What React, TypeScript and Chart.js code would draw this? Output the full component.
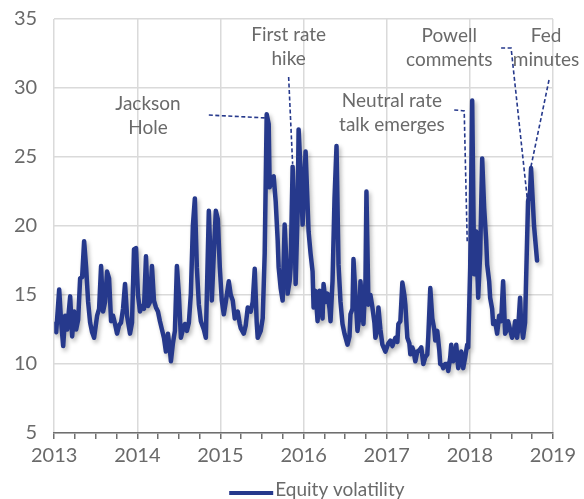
import React, { useEffect, useRef } from 'react';
import { Chart, registerables } from 'chart.js';

Chart.register(...registerables);

// Decimal-year dates of observations
const dates: number[] = [
  2013.000, 2013.024, 2013.060, 2013.084, 2013.108, 2013.132, 2013.156, 2013.192, 2013.216, 2013.240,
  2013.264, 2013.288, 2013.312, 2013.336, 2013.360, 2013.384, 2013.408, 2013.432, 2013.456, 2013.480,
  2013.516, 2013.540, 2013.564, 2013.588, 2013.612, 2013.636, 2013.660, 2013.684, 2013.708, 2013.732,
  2013.756, 2013.780, 2013.804, 2013.828, 2013.852, 2013.876, 2013.912, 2013.936, 2013.960, 2013.984,
  2014.008, 2014.032, 2014.056, 2014.080, 2014.104, 2014.128, 2014.152, 2014.176, 2014.200, 2014.224,
  2014.248, 2014.272, 2014.296, 2014.320, 2014.344, 2014.368, 2014.392, 2014.404, 2014.428, 2014.452,
  2014.476, 2014.500, 2014.524, 2014.548, 2014.572, 2014.596, 2014.620, 2014.644, 2014.668, 2014.692,
  2014.716, 2014.740, 2014.764, 2014.800, 2014.824, 2014.836, 2014.860, 2014.884, 2014.896, 2014.920,
  2014.944, 2014.968, 2014.992,
  2015.016, 2015.040, 2015.064, 2015.100, 2015.124, 2015.148, 2015.172, 2015.208, 2015.232, 2015.244,
  2015.280, 2015.304, 2015.328, 2015.364, 2015.388, 2015.412, 2015.436, 2015.448, 2015.484, 2015.508,
  2015.532, 2015.556, 2015.580, 2015.592, 2015.616, 2015.640, 2015.664, 2015.688, 2015.700, 2015.724,
  2015.748, 2015.772, 2015.796, 2015.808, 2015.832, 2015.844, 2015.868, 2015.892, 2015.904, 2015.928,
  2015.940, 2015.964, 2015.988,
  2016.024, 2016.060, 2016.084, 2016.108, 2016.120, 2016.144, 2016.168, 2016.192, 2016.204, 2016.228,
  2016.240, 2016.264, 2016.288, 2016.312, 2016.324, 2016.348, 2016.372, 2016.396, 2016.420, 2016.444,
  2016.468, 2016.492, 2016.528, 2016.552, 2016.564, 2016.588, 2016.600, 2016.624, 2016.648, 2016.672,
  2016.684, 2016.708, 2016.720, 2016.744, 2016.756, 2016.780, 2016.804, 2016.828, 2016.852, 2016.864,
  2016.888, 2016.900, 2016.924, 2016.948, 2016.984,
  2017.020, 2017.044, 2017.068, 2017.104, 2017.128, 2017.140, 2017.164, 2017.188, 2017.212, 2017.224,
  2017.248, 2017.272, 2017.284, 2017.308, 2017.320, 2017.344, 2017.368, 2017.392, 2017.416, 2017.440,
  2017.464, 2017.488, 2017.500, 2017.524, 2017.548, 2017.572, 2017.584, 2017.608, 2017.632, 2017.644,
  2017.668, 2017.680, 2017.704, 2017.728, 2017.740, 2017.764, 2017.776, 2017.800, 2017.824, 2017.836,
  2017.860, 2017.884, 2017.896, 2017.920, 2017.944, 2017.968, 2017.980,
  2018.004, 2018.028, 2018.052, 2018.076, 2018.100, 2018.124, 2018.148, 2018.172, 2018.196, 2018.208,
  2018.232, 2018.244, 2018.268, 2018.280, 2018.304, 2018.328, 2018.352, 2018.376, 2018.400, 2018.424,
  2018.448, 2018.460, 2018.484, 2018.508, 2018.532, 2018.544, 2018.568, 2018.580, 2018.604, 2018.616,
  2018.640, 2018.664, 2018.676, 2018.700, 2018.724, 2018.736, 2018.772, 2018.808,
];

// Equity volatility values
const volatility: number[] = [
  12.9, 12.3, 15.4, 13.0, 11.3, 13.5, 12.5, 14.9, 12.0, 13.8,
  12.5, 13.2, 16.2, 16.3, 18.9, 17.0, 14.5, 13.0, 12.3, 11.9,
  13.5, 14.0, 17.1, 13.8, 14.5, 16.7, 16.2, 13.1, 13.5, 12.9,
  12.2, 12.8, 13.0, 14.0, 15.8, 13.5, 12.2, 13.0, 18.3, 18.4,
  15.0, 13.8, 14.2, 14.0, 17.8, 14.2, 14.5, 17.1, 14.6, 14.1,
  13.8, 13.1, 12.5, 11.9, 10.9, 12.2, 11.0, 10.2, 11.5, 12.4,
  17.1, 15.0, 11.9, 12.5, 12.9, 12.4, 13.0, 15.1, 20.0, 22.0,
  17.0, 14.3, 13.1, 12.5, 11.9, 15.0, 21.1, 17.0, 14.6, 18.0,
  21.1, 20.5, 17.0,
  14.6, 13.6, 14.5, 16.0, 15.0, 14.6, 13.3, 13.8, 12.9, 12.6,
  12.2, 12.8, 14.1, 13.8, 14.5, 16.9, 13.0, 11.9, 12.4, 13.3,
  18.0, 28.1, 27.4, 22.8, 23.5, 23.6, 21.8, 19.0, 17.0, 15.5,
  14.6, 20.1, 17.0, 15.1, 16.0, 17.0, 24.3, 20.0, 15.8, 21.0,
  27.0, 24.0, 20.1,
  25.4, 19.6, 18.0, 16.7, 14.1, 15.3, 13.1, 15.3, 14.5, 13.3,
  15.8, 14.5, 15.1, 14.0, 13.1, 16.0, 22.0, 25.8, 17.2, 14.5,
  12.9, 12.2, 11.4, 12.0, 13.6, 14.0, 17.6, 15.0, 12.4, 13.5,
  16.0, 14.0, 12.9, 16.0, 22.5, 14.3, 15.0, 14.1, 13.0, 11.9,
  12.5, 14.1, 12.5, 11.4, 10.9,
  11.5, 11.7, 11.3, 11.9, 11.6, 12.9, 13.1, 15.9, 15.0, 14.3,
  11.9, 11.5, 10.7, 11.2, 11.0, 10.2, 10.9, 11.0, 11.2, 10.0,
  10.5, 10.7, 12.0, 15.5, 13.3, 12.5, 11.7, 12.4, 11.0, 10.0,
  9.9, 9.7, 10.0, 10.0, 9.5, 10.5, 11.4, 10.2, 10.5, 11.4,
  9.7, 10.5, 10.9, 9.7, 10.5, 11.4, 11.2,
  17.0, 29.1, 16.5, 19.6, 14.8, 18.0, 24.9, 21.3, 19.0, 17.2,
  16.0, 14.8, 14.0, 12.9, 13.1, 12.2, 13.5, 13.1, 16.0, 12.2,
  12.5, 13.1, 12.5, 11.9, 12.5, 13.1, 11.9, 12.5, 14.8, 13.0,
  11.9, 13.0, 16.0, 21.8, 22.5, 24.2, 20.0, 17.5,
];

const seriesName = 'Equity volatility';
const yearMin = 2013;
const yearMax = 2019;
const yMin = 5;
const yMax = 35;

// Annotation labels (text lines, anchor in data units) and leader lines (data units)
const annotationTexts: string[][] = [
  ['Jackson', 'Hole'],
  ['First rate', 'hike'],
  ['Neutral rate', 'talk emerges'],
  ['Powell', 'comments'],
  ['Fed', 'minutes'],
];
const annotationAnchors: [number, number][] = [
  [2014.128, 27.97],
  [2015.82, 32.97],
  [2017.062, 28.22],
  [2017.752, 32.9],
  [2018.916, 32.9],
];
const annotationLeaders: [number, number][][] = [
  [[2014.86, 28.04], [2015.544, 27.83]],
  [[2015.82, 30.8], [2015.868, 24.5]],
  [[2017.812, 28.41], [2017.932, 28.34], [2017.968, 18.9]],
  [[2018.376, 32.9], [2018.496, 32.9], [2018.70, 21.45]],
  [[2018.952, 30.58], [2018.724, 23.99]],
];

const NAVY = '#26398c';
const TEXT = '#6a6a6a';
const GRID = '#dadada';
const AXIS = '#6f6f6f';
const FONT = 'Lato, "Open Sans", sans-serif';

// canvas is drawn taller than the page and shifted up, so the plot sits as in the original
const CANVAS_W = 584;
const CANVAS_H = 522;
const SHIFT = 10;

export default function App() {
  const ref = useRef<HTMLCanvasElement | null>(null);

  useEffect(() => {
    document.body.style.margin = '0';
    const canvas = ref.current;
    if (!canvas) return;

    const shadowPlugin = {
      id: 'lineShadow',
      beforeDatasetDraw(chart: any) {
        const ctx = chart.ctx;
        ctx.save();
        ctx.shadowColor = 'rgba(0,0,0,0.28)';
        ctx.shadowBlur = 4;
        ctx.shadowOffsetX = 2;
        ctx.shadowOffsetY = 3;
      },
      afterDatasetDraw(chart: any) {
        chart.ctx.restore();
      },
    };

    const annotationPlugin = {
      id: 'annotations',
      afterDraw(chart: any) {
        const ctx = chart.ctx;
        const xs = chart.scales.x;
        const ys = chart.scales.y;
        ctx.save();
        // leaders
        ctx.strokeStyle = NAVY;
        ctx.lineWidth = 1.6;
        ctx.setLineDash([4, 2.5]);
        annotationLeaders.forEach((pts) => {
          ctx.beginPath();
          pts.forEach(([x, y], i) => {
            const px = xs.getPixelForValue(x);
            const py = ys.getPixelForValue(y);
            if (i === 0) ctx.moveTo(px, py);
            else ctx.lineTo(px, py);
          });
          ctx.stroke();
        });
        ctx.setLineDash([]);
        // labels
        ctx.fillStyle = TEXT;
        ctx.font = `19px ${FONT}`;
        ctx.textAlign = 'center';
        ctx.textBaseline = 'middle';
        const lh = 24;
        annotationTexts.forEach((lines, i) => {
          const [ax, ay] = annotationAnchors[i];
          const cx = xs.getPixelForValue(ax);
          const cy = ys.getPixelForValue(ay);
          const top = cy - ((lines.length - 1) * lh) / 2;
          lines.forEach((t, j) => ctx.fillText(t, cx, top + j * lh));
        });
        // legend
        const area = chart.chartArea;
        const lx = area.left + 175;
        const ly = area.bottom + 60;
        ctx.strokeStyle = NAVY;
        ctx.lineWidth = 4;
        ctx.beginPath();
        ctx.moveTo(lx, ly);
        ctx.lineTo(lx + 44, ly);
        ctx.stroke();
        ctx.textAlign = 'left';
        ctx.textBaseline = 'alphabetic';
        ctx.fillText(seriesName, lx + 46, ly + 3);
        ctx.restore();
      },
    };

    const chart = new Chart(canvas, {
      type: 'line',
      data: {
        datasets: [
          {
            label: seriesName,
            data: dates.map((d, i) => ({ x: d, y: volatility[i] })),
            borderColor: NAVY,
            backgroundColor: NAVY,
            borderWidth: 4.5,
            pointRadius: 0,
            tension: 0,
            borderJoinStyle: 'round',
            borderCapStyle: 'round',
          },
        ],
      },
      options: {
        animation: false,
        responsive: false,
        devicePixelRatio: 1,
        layout: { padding: { left: -3, right: 31, top: -2, bottom: 39 } },
        plugins: {
          legend: { display: false },
          tooltip: { enabled: false },
        },
        scales: {
          x: {
            type: 'linear',
            min: yearMin,
            max: yearMax,
            ticks: {
              stepSize: 0.25,
              autoSkip: false,
              maxRotation: 0,
              padding: 5,
              color: TEXT,
              font: { family: FONT, size: 20 },
              callback: (v: any) => (Number.isInteger(v) ? String(v) : ''),
            },
            grid: {
              color: (c: any) => (c.tick && Number.isInteger(c.tick.value) ? GRID : 'rgba(0,0,0,0)'),
              tickColor: AXIS,
              tickLength: 6,
              lineWidth: 1.5,
              tickWidth: 1.5,
            },
            border: { display: true, color: AXIS, width: 1.5 },
          },
          y: {
            min: yMin,
            max: yMax,
            ticks: {
              stepSize: 5,
              padding: 17,
              color: TEXT,
              font: { family: FONT, size: 20 },
            },
            grid: { color: GRID, drawTicks: false, lineWidth: 1.5 },
            border: { display: false },
          },
        },
      },
      plugins: [shadowPlugin, annotationPlugin],
    });

    return () => chart.destroy();
  }, []);

  return (
    <div style={{ width: 584, height: 499, overflow: 'hidden', background: '#fff' }}>
      <canvas
        ref={ref}
        width={CANVAS_W}
        height={CANVAS_H}
        style={{ display: 'block', marginTop: -SHIFT }}
      />
    </div>
  );
}
